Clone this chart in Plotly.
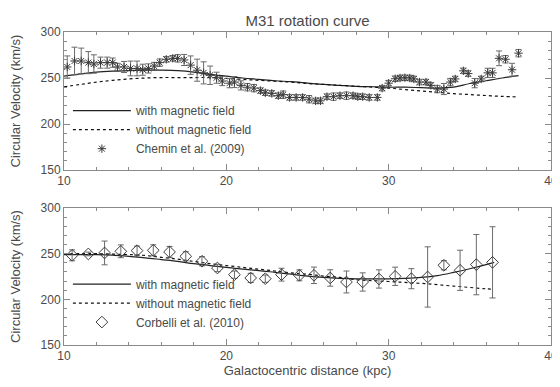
import plotly.graph_objects as go

# ---------------- data ----------------
# Top panel: Chemin et al. (2009)
x_chemin = [10.2, 10.65, 11.06, 11.5, 11.84, 12.25, 12.66, 13.0, 13.3, 13.7, 14.1, 14.5, 14.85, 15.2, 15.56,
            15.9, 16.3, 16.7, 17.0, 17.4, 17.8, 18.2, 18.6, 19.0, 19.4, 19.75, 20.2, 20.5, 20.9, 21.3,
            21.7, 22.1, 22.4, 22.8, 23.2, 23.5, 23.9, 24.3, 24.7, 25.1, 25.5, 25.8, 26.2, 26.6, 27.0,
            27.4, 27.8, 28.1, 28.4, 28.8, 29.3, 29.6, 30.0, 30.4, 30.7, 31.0, 31.3, 31.55, 31.9, 32.3,
            32.6, 33.0, 33.4, 33.8, 34.1, 34.6, 34.9, 35.3, 35.7, 36.1, 36.4, 36.8, 37.2, 37.6, 38.0]
v_chemin = [262, 268.5, 268.5, 266.7, 265.2, 266.7, 266.7, 266.7, 262, 262, 260.4, 260.4, 259, 260.4, 263,
            266.7, 270.3, 271.4, 271.4, 269.6, 264, 258.5, 255.6, 253, 250.3, 246.7, 244.4, 245.6, 242, 240,
            239, 236.3, 234, 233.3, 230.8, 231.9, 228.9, 228.9, 228.9, 227, 225.2, 225.2, 229.7, 229.7, 230.8,
            230.8, 230.8, 229.7, 229.7, 228.9, 228.9, 239, 244.4, 249.2, 250, 250.3, 250, 249, 245.6, 245.6,
            242, 238, 238, 245.6, 249, 257.8, 254.8, 244.4, 249, 255.6, 255.6, 271.4, 270.4, 259, 277]
e_chemin = [12, 15, 14, 12, 10, 6, 6, 5, 4, 6, 8, 8, 6, 5, 4,
            4, 3, 3, 4, 6, 10, 12, 12, 10, 6, 5, 5, 6, 5, 4,
            4, 3, 3, 3, 3, 4, 3, 3, 3, 4, 3, 3, 3, 4, 3,
            4, 3, 3, 3, 3, 3, 3, 3, 3, 3, 3, 3, 3, 3, 3,
            3, 4, 6, 4, 3, 3, 3, 5, 3, 5, 5, 8, 4, 7, 4]

x_model_top = [10, 11, 12, 13, 14, 15, 16, 17, 18, 19, 20, 21, 22, 23, 24, 25, 26, 27, 28, 29,
               30, 31, 32, 33, 34, 35, 36, 37, 38]
v_with_top = [252, 254.5, 256.5, 257.5, 258, 258.5, 258.5, 258, 256.5, 254, 252, 250, 248.5, 247, 246,
              244.5, 243, 242, 241, 240.5, 240, 240, 239.5, 239, 240, 244, 247, 250, 252.5]
v_without_top = [240.5, 243, 245.5, 247.5, 249, 250, 250.5, 250.5, 250.5, 250.5, 249.5, 248.5, 247.5, 246.5,
                 245.5, 244, 243, 242, 241, 240, 239, 237.5, 236, 234.5, 233, 232, 231, 230, 229.5]

# Bottom panel: Corbelli et al. (2010)
x_corb = [10.5, 11.5, 12.5, 13.5, 14.5, 15.5, 16.5, 17.5, 18.5, 19.45, 20.5, 21.5, 22.4, 23.4, 24.5,
          25.4, 26.4, 27.4, 28.4, 29.4, 30.4, 31.4, 32.4, 33.4, 34.4, 35.4, 36.4]
v_corb = [248.2, 249.7, 250.8, 252.6, 253.3, 253.7, 251.9, 247.1, 241.7, 234.3, 227, 223.4, 222.6, 227, 226.3,
          226.3, 223.4, 219, 219, 222.3, 225.2, 222.6, 224.5, 237.3, 231.8, 238, 240.5]
e_corb = [6, 2, 13, 7, 5, 6, 6, 5, 5, 4, 4, 5, 4, 7, 6,
          9, 9, 12, 10, 10, 10, 11, 33, 5, 22, 33, 39]

x_model_bot = [10, 11, 12, 13, 14, 15, 16, 17, 18, 19, 20, 21, 22, 23, 24, 25, 26, 27, 28, 29,
               30, 31, 32, 33, 34, 35, 36, 36.5]
v_with_bot = [249, 249, 249, 248.5, 247, 245.5, 243.5, 241.5, 239, 237, 235, 233, 231.5, 229.5, 227.5,
              225.5, 224, 223, 222.5, 222.5, 222.5, 223, 224, 226, 229.5, 233.5, 238, 240.5]
v_without_bot = [250, 250, 250, 249.5, 249, 248, 246, 244, 241.5, 239, 237, 235, 233, 231, 229, 227.5,
                 225.5, 224, 221.5, 220.5, 219.5, 218.5, 217.5, 216, 214.5, 213, 211.5, 211]

x_ticks = [10, 20, 30, 40]
y_ticks = [150, 200, 250, 300]

# ---------------- figure ----------------
FONT = "Liberation Sans, Arial, sans-serif"
TXT = "#4a4a4a"
AX = "#8a8a8a"

fig = go.Figure()

def add_panel(xm, vwith, vwithout, xd, vd, ed, sym, msize, label, xa, ya, leg):
    fig.add_trace(go.Scatter(x=xm, y=vwith, mode="lines", name="with magnetic field",
                             line=dict(color="#222222", width=1.2, shape="spline"),
                             xaxis=xa, yaxis=ya, legend=leg))
    fig.add_trace(go.Scatter(x=xm, y=vwithout, mode="lines", name="without magnetic field",
                             line=dict(color="#111111", width=1.2, dash="dot", shape="spline"),
                             xaxis=xa, yaxis=ya, legend=leg))
    fig.add_trace(go.Scatter(x=xd, y=vd, mode="markers", name=label,
                             marker=dict(symbol=sym, size=msize, color="#3a3a3a",
                                         line=dict(color="#3a3a3a", width=1)),
                             error_y=dict(type="data", array=ed, visible=True, color="#6a6a6a",
                                          thickness=1, width=3),
                             xaxis=xa, yaxis=ya, legend=leg))

add_panel(x_model_top, v_with_top, v_without_top, x_chemin, v_chemin, e_chemin,
          "asterisk-open", 7, "Chemin et al. (2009)", "x", "y", "legend")
add_panel(x_model_bot, v_with_bot, v_without_bot, x_corb, v_corb, e_corb,
          "diamond-open", 9, "Corbelli et al. (2010)", "x2", "y2", "legend2")

axis_common = dict(showline=True, linecolor=AX, linewidth=1, mirror="ticks", ticks="inside",
                   ticklen=6, tickcolor=AX, showgrid=False, zeroline=False, automargin=False,
                   tickfont=dict(family=FONT, size=12, color=TXT))
ytitle = dict(text="Circular Velocity (km/s)", standoff=18, font=dict(family=FONT, size=13, color=TXT))

fig.update_layout(
    width=560, height=387,
    margin=dict(l=56, r=17, t=24, b=50, autoexpand=False),
    paper_bgcolor="white", plot_bgcolor="white",
    font=dict(family=FONT, color=TXT),
    title=dict(text="M31 rotation curve", x=0.535, xanchor="center", y=0.966, yanchor="middle",
               font=dict(family=FONT, size=15, color=TXT)),
    xaxis=dict(domain=[0, 1], anchor="y", range=[10, 40], tickvals=x_ticks,
               minor=dict(ticks="inside", dtick=2, ticklen=3, tickcolor=AX), **axis_common),
    yaxis=dict(domain=[0.559, 1], anchor="x", range=[150, 300], tickvals=y_ticks,
               minor=dict(ticks="inside", dtick=10, ticklen=3, tickcolor=AX),
               title=ytitle, **axis_common),
    xaxis2=dict(domain=[0, 1], anchor="y2", range=[10, 40], tickvals=x_ticks,
                minor=dict(ticks="inside", dtick=2, ticklen=3, tickcolor=AX),
                title=dict(text="Galactocentric distance (kpc)", standoff=0,
                           font=dict(family=FONT, size=13, color=TXT)),
                **axis_common),
    yaxis2=dict(domain=[0, 0.4377], anchor="x2", range=[150, 300], tickvals=y_ticks,
                minor=dict(ticks="inside", dtick=10, ticklen=3, tickcolor=AX),
                title=ytitle, **axis_common),
    legend=dict(x=0.008, y=0.795, xanchor="left", yanchor="top", bgcolor="rgba(0,0,0,0)",
                font=dict(family=FONT, size=12, color=TXT), itemwidth=58, tracegroupgap=0),
    legend2=dict(x=0.008, y=0.241, xanchor="left", yanchor="top", bgcolor="rgba(0,0,0,0)",
                 font=dict(family=FONT, size=12, color=TXT), itemwidth=58, tracegroupgap=0),
    showlegend=True,
)

fig.write_html("out.html")
